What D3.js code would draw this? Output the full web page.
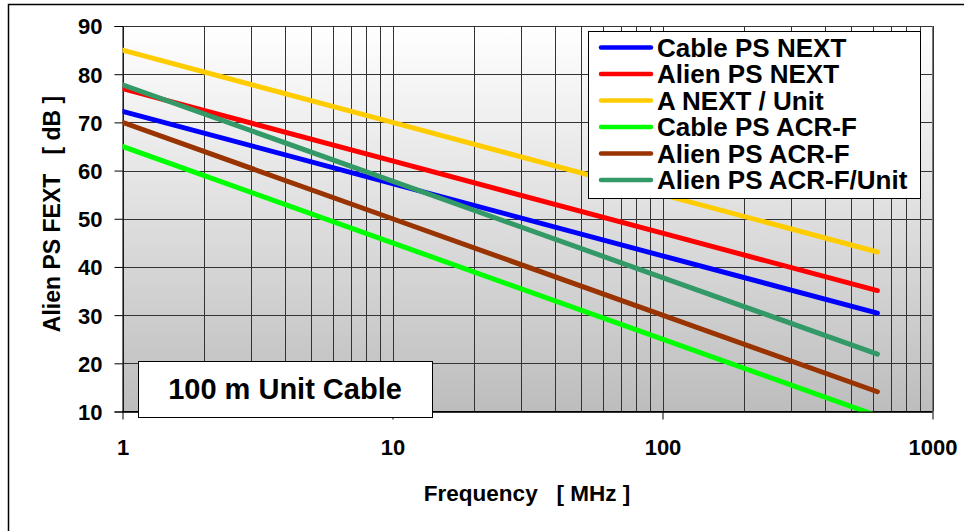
<!DOCTYPE html>
<html>
<head>
<meta charset="utf-8">
<script src="https://cdn.jsdelivr.net/npm/d3@7"></script>
<style>
  body { margin: 0; background: #fff; }
  text { font-family: Arial, "Liberation Sans", sans-serif; font-weight: bold; fill: #000; }
</style>
</head>
<body>
<div id="chart"></div>
<script>
// frequencies in MHz
const freqs = [1, 10, 100, 625]

// values in dB
const cablePsNext = [72.3, 57.3, 42.3, 30.4]
const alienPsNext = [77.0, 62.0, 47.0, 35.1]
const aNextUnit = [85.0, 70.0, 55.0, 43.1]
const cablePsAcrF = [65.0, 45.0, 25.0, 9.1]
const alienPsAcrF = [70.0, 50.0, 30.0, 14.1]
const alienPsAcrFUnit = [77.8, 57.8, 37.8, 21.9]

const seriesNames = ["Cable PS NEXT", "Alien PS NEXT", "A NEXT / Unit", "Cable PS ACR-F", "Alien PS ACR-F", "Alien PS ACR-F/Unit"]
const seriesValues = [cablePsNext, alienPsNext, aNextUnit, cablePsAcrF, alienPsAcrF, alienPsAcrFUnit]
const seriesColors = ["#0000ff", "#ff0000", "#ffcc00", "#00ff00", "#993300", "#339966"]

const xTickValues = [1, 10, 100, 1000]
const yTickValues = [10, 20, 30, 40, 50, 60, 70, 80, 90]

const width = 964
const height = 531
const plotLeft = 122.5, plotRight = 932.5, plotTop = 26, plotBottom = 411.5

const svg = d3.select("#chart")
  .append("svg")
  .attr("width", width)
  .attr("height", height)

// outer frame (runs off the right and bottom edge)
svg.append("rect")
  .attr("x", 8.5)
  .attr("y", 4.5)
  .attr("width", 980)
  .attr("height", 560)
  .attr("fill", "#fff")
  .attr("stroke", "#000")
  .attr("stroke-width", 1.5)

const x = d3.scaleLog().domain([1, 1000]).range([plotLeft, plotRight])
const y = d3.scaleLinear().domain([10, 90]).range([plotBottom, plotTop])

const defs = svg.append("defs")
const grad = defs.append("linearGradient")
  .attr("id", "bg")
  .attr("x1", 0).attr("y1", 0).attr("x2", 0).attr("y2", 1)
grad.append("stop").attr("offset", "0%").attr("stop-color", "#ffffff")
grad.append("stop").attr("offset", "100%").attr("stop-color", "#bdbdbd")

defs.append("clipPath").attr("id", "plotclip")
  .append("rect")
  .attr("x", plotLeft).attr("y", plotTop)
  .attr("width", plotRight - plotLeft).attr("height", plotBottom - plotTop)

svg.append("rect")
  .attr("x", plotLeft).attr("y", plotTop)
  .attr("width", plotRight - plotLeft).attr("height", plotBottom - plotTop)
  .attr("fill", "url(#bg)")

// vertical grid, every log tick
svg.append("g")
  .selectAll("line")
  .data(x.ticks())
  .join("line")
  .attr("x1", (d) => Math.round(x(d)) + 0.5)
  .attr("x2", (d) => Math.round(x(d)) + 0.5)
  .attr("y1", plotTop)
  .attr("y2", plotBottom)
  .attr("stroke", "#333")
  .attr("stroke-width", 1)

// horizontal grid
svg.append("g")
  .selectAll("line")
  .data(yTickValues)
  .join("line")
  .attr("x1", plotLeft)
  .attr("x2", plotRight)
  .attr("y1", (d) => Math.round(y(d)) + 0.5)
  .attr("y2", (d) => Math.round(y(d)) + 0.5)
  .attr("stroke", "#333")
  .attr("stroke-width", 1)

// plot border right side
svg.append("line")
  .attr("x1", plotRight).attr("x2", plotRight)
  .attr("y1", plotTop).attr("y2", plotBottom)
  .attr("stroke", "#777")

const yAxis = svg.append("g")
  .attr("transform", `translate(${plotLeft},0)`)
  .call(d3.axisLeft(y).tickValues(yTickValues).tickSize(8).tickPadding(12))
yAxis.selectAll("text").style("font-size", "22px").attr("dy", "0.36em")
yAxis.selectAll("line, path").attr("stroke", "#000")

const xAxis = svg.append("g")
  .attr("transform", `translate(0,${plotBottom})`)
  .call(d3.axisBottom(x).tickValues(xTickValues).tickFormat(d3.format("d")).tickSize(8).tickPadding(20))
xAxis.selectAll("text").style("font-size", "22px")
xAxis.selectAll("line, path").attr("stroke", "#000")
xAxis.select(".domain").attr("d", `M${plotLeft},0H${plotRight}`)

// lines
const line = d3.line()
  .x((d, i) => x(freqs[i]))
  .y((d) => y(d))

svg.append("g")
  .attr("clip-path", "url(#plotclip)")
  .selectAll("path")
  .data(seriesValues)
  .join("path")
  .attr("d", (d) => line(d))
  .attr("fill", "none")
  .attr("stroke", (d, i) => seriesColors[i])
  .attr("stroke-width", 5)
  .attr("stroke-linecap", "round")

// legend
const legend = svg.append("g")
legend.append("rect")
  .attr("x", 588.5).attr("y", 31.5)
  .attr("width", 332).attr("height", 167)
  .attr("fill", "#fff")
  .attr("stroke", "#000")

const items = legend.selectAll("g.item")
  .data(seriesNames)
  .join("g")
  .attr("class", "item")
  .attr("transform", (d, i) => `translate(0,${47.5 + i * 26.5})`)
items.append("line")
  .attr("x1", 601).attr("x2", 651)
  .attr("stroke", (d, i) => seriesColors[i])
  .attr("stroke-width", 4.5)
  .attr("stroke-linecap", "round")
items.append("text")
  .attr("x", 657)
  .attr("y", 9)
  .style("font-size", "26px")
  .text((d) => d)

// note box
svg.append("rect")
  .attr("x", 138.5).attr("y", 361.5)
  .attr("width", 294).attr("height", 56)
  .attr("fill", "#fff")
  .attr("stroke", "#000")
svg.append("text")
  .attr("x", 285)
  .attr("y", 399)
  .attr("text-anchor", "middle")
  .style("font-size", "29px")
  .text("100 m Unit Cable")

// axis titles
svg.append("text")
  .attr("x", 527)
  .attr("y", 501)
  .attr("text-anchor", "middle")
  .style("font-size", "22.5px")
  .style("white-space", "pre")
  .text("Frequency   [ MHz ]")

svg.append("text")
  .attr("transform", "translate(60,214) rotate(-90)")
  .attr("text-anchor", "middle")
  .style("font-size", "23px")
  .style("white-space", "pre")
  .text("Alien PS FEXT   [ dB ]")
</script>
</body>
</html>
